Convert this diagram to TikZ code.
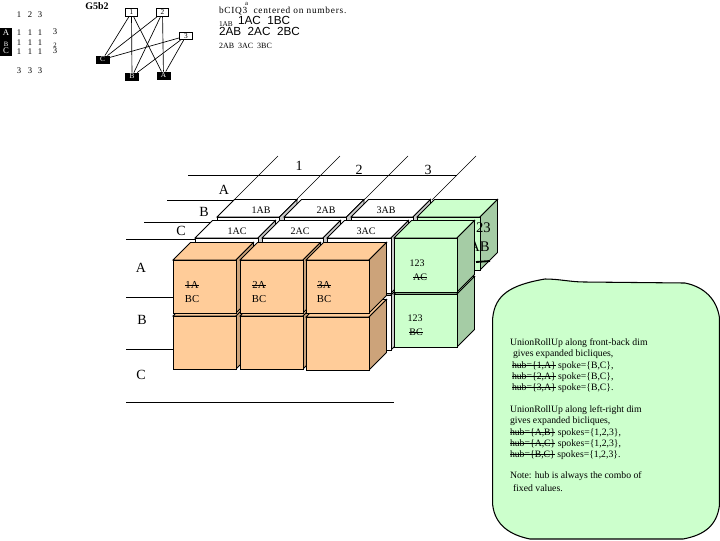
\documentclass[tikz,border=0pt]{standalone}
\usepackage{fontspec}
\setmainfont{Liberation Serif}
\newfontfamily\sansf{Liberation Sans}
\newfontfamily\widef[LetterSpace=8]{Liberation Serif}
\newcommand\fsz[1]{\fontsize{#1}{#1}\selectfont}
\newcommand\strk[1]{\setbox0\hbox{#1}\leavevmode\rlap{\rule[0.27em]{\wd0}{0.7pt}}\box0 }
\definecolor{orf}{HTML}{FFCC99}
\definecolor{ors}{HTML}{CCA37A}
\definecolor{grf}{HTML}{CCFFCC}
\definecolor{grs}{HTML}{A5CCA5}
\definecolor{whs}{HTML}{CCCCCC}
% x y w h front side top
\newcommand\cubeat[7]{%
  \draw[cubeline,fill=#7] (#1,#2) -- ++(17.5,-17.5) -- ++(#3,0) -- ++(-17.5,17.5) -- cycle;
  \draw[cubeline,fill=#6] ({#1+#3},#2) -- ++(17.5,-17.5) -- ++(0,#4) -- ++(-17.5,17.5) -- cycle;
  \draw[cubeline,fill=#5] (#1,#2) rectangle ++(#3,#4);
}
\tikzset{
  cubeline/.style={line width=0.7pt,line join=miter},
  thinl/.style={line width=0.5pt},
  txt/.style={inner sep=0pt,outer sep=0pt,font=\fsz{7.5}},
  lab/.style={inner sep=0pt,outer sep=0pt,font=\fsz{10.5}},
  small/.style={inner sep=0pt,outer sep=0pt,font=\fsz{7}},
  note/.style={inner sep=0pt,outer sep=0pt,anchor=west,font=\fsz{7.3}},
  wbox/.style={draw,fill=white,line width=0.7pt,inner sep=0pt,minimum width=9.5pt,minimum height=5.5pt,font=\fsz{5.5}},
  bbox/.style={draw,fill=black,text=white,inner sep=0pt,minimum width=9.5pt,minimum height=5.5pt,font=\fsz{5.5}},
  mat/.style={inner sep=0pt,outer sep=0pt,font=\fsz{6.5}},
  edge/.style={line width=0.5pt},
}
\begin{document}
\begin{tikzpicture}[x=0.75pt,y=-0.75pt]
\useasboundingbox (0,0) rectangle (720,540);
% top-left table
\node[mat] (m11) at (19,15) {1}; \node[mat] (m12) at (30,15) {2}; \node[mat] (m13) at (40,15) {3};
\node[mat] (m21) at (19,33) {1}; \node[mat] (m22) at (30,33) {1}; \node[mat] (m23) at (40,33) {1}; \node[mat] (m24) at (55,32) {3};
\node[mat] (m31) at (19,43) {1}; \node[mat] (m32) at (30,43) {1}; \node[mat] (m33) at (40,43) {1}; \node[mat,font=\fsz{5}] (m34) at (55,45) {2};
\node[mat] (m41) at (19,52) {1}; \node[mat] (m42) at (30,52) {1}; \node[mat] (m43) at (40,52) {1}; \node[mat] (m44) at (55,51) {3};
\node[mat] (m51) at (19,71) {3}; \node[mat] (m52) at (30,71) {3}; \node[mat] (m53) at (40,71) {3};
\fill (0,28) rectangle (12,56);
\node[mat,text=white] (la) at (6,33) {A};
\node[mat,text=white,font=\fsz{5}] (lb) at (6,44) {B};
\node[mat,text=white] (lc) at (6,51) {C};
% small graph
\node[inner sep=0pt,font=\bfseries\fsz{7.5}] (g5) at (97,6) {G5b2};
\node[wbox] (g1) at (131.5,12.5) {1};
\node[wbox] (g2) at (162.5,12.5) {2};
\node[wbox] (g3) at (186,36) {3};
\node[bbox] (gc) at (102.5,59.5) {C};
\node[bbox] (gb) at (132,76.5) {B};
\node[bbox] (ga) at (163.5,75.5) {A};
\foreach \s in {g1,g2,g3}{\foreach \t in {gc,gb,ga}{\draw[edge] (\s) -- (\t);}}
% top text
\node[small,anchor=west] (t0) at (245,4) {\fsz{5}a};
\node[small,anchor=west,font=\widef\fsz{7}] (t1) at (219,11) {bCIQ3\ \ centered on numbers.};
\node[small,anchor=west,font=\fsz{5.5}] (t2) at (219,24) {1AB};
\node[small,anchor=west,font=\sansf\fsz{8.8}] (t3) at (238,20) {1AC\ \ 1BC};
\node[small,anchor=west,font=\sansf\fsz{8.8}] (t4) at (219,31) {2AB\ \ 2AC\ \ 2BC};
\node[small,anchor=west,font=\fsz{6}] (t5) at (219,46) {2AB\ \ 3AC\ \ 3BC};
% axis lines
\coordinate (d1a) at (278,156); \coordinate (d1b) at (234,200);
\coordinate (d2a) at (340,156); \coordinate (d2b) at (296,200);
\coordinate (d3a) at (408,156); \coordinate (d3b) at (364,200);
\coordinate (d4a) at (476,156); \coordinate (d4b) at (432,200);
\foreach \n in {1,2,3,4}{\draw[thinl] (d\n a) -- (d\n b);}
\coordinate (h1a) at (188,175); \coordinate (h1b) at (457,175);
\coordinate (h2a) at (167,200); \coordinate (h2b) at (236,200);
\coordinate (h3a) at (144,222); \coordinate (h3b) at (214,222);
\coordinate (h4a) at (126,239); \coordinate (h4b) at (196,239);
\coordinate (h5a) at (126,297); \coordinate (h5b) at (173,297);
\coordinate (h6a) at (126,349); \coordinate (h6b) at (173,349);
\coordinate (h7a) at (126,402); \coordinate (h7b) at (394,402);
\foreach \n in {1,...,7}{\draw[line width=0.7pt] (h\n a) -- (h\n b);}
% back row
\cubeat{217}{217}{62.5}{50}{white}{whs}{white}
\cubeat{284}{217}{62.5}{50}{white}{whs}{white}
\cubeat{351}{217}{62}{50}{white}{whs}{white}
\cubeat{417}{217}{63}{53}{grf}{grs}{grf}
\draw[line width=1.4pt] (476,262) -- (490,261);
\node[inner sep=0pt,font=\fsz{11},anchor=east] (g123) at (491,228) {123};
\node[inner sep=0pt,font=\fsz{11},anchor=east] (gab) at (490,247) {AB};
\node[txt] (c1ab) at (261,210) {1AB};
\node[txt] (c2ab) at (326,210) {2AB};
\node[txt] (c3ab) at (386,210) {3AB};
% middle row
\cubeat{195}{295}{63}{55}{white}{whs}{white}
\cubeat{262}{295}{61}{55}{white}{whs}{white}
\cubeat{327}{295}{64}{55}{white}{whs}{white}
\cubeat{195}{238}{63}{55}{white}{whs}{white}
\cubeat{262}{238}{61}{55}{white}{whs}{white}
\cubeat{327}{238}{64}{55}{white}{whs}{white}
\node[txt] (c1ac) at (237,231) {1AC};
\node[txt] (c2ac) at (300,231) {2AC};
\node[txt] (c3ac) at (366,231) {3AC};
% green column
\cubeat{394}{294}{63}{53}{grf}{grs}{grf}
\cubeat{394}{238}{63}{54}{grf}{grs}{grf}
\node[txt,font=\fsz{7.5}] (g1a) at (417,263) {123};
\node[txt,font=\fsz{7.5}] (g1b) at (420,277) {\strk{AC}};
\node[txt,font=\fsz{7.5}] (g2a) at (415,318) {123};
\node[txt,font=\fsz{7.5}] (g2b) at (416,332) {\strk{BC}};
% front row
\cubeat{173}{316}{63}{53}{orf}{ors}{orf}
\cubeat{240}{316}{63}{53}{orf}{ors}{orf}
\cubeat{306}{317}{63}{53}{orf}{ors}{orf}
\cubeat{173}{260}{63}{53}{orf}{ors}{orf}
\cubeat{240}{260}{63}{53}{orf}{ors}{orf}
\cubeat{306}{260}{63}{53}{orf}{ors}{orf}
\foreach \x/\c in {192/1,259/2,324/3}{
  \node[txt,font=\fsz{8},anchor=center] (f\c a) at (\x,285) {\strk{\c A}};
  \node[txt,font=\fsz{8},anchor=center] (f\c b) at (\x,299) {BC};
}
% axis labels
\node[lab] (x1) at (299,166) {1};
\node[lab] (x2) at (359,170) {2};
\node[lab] (x3) at (428,170) {3};
\node[lab] (ya1) at (224,190) {A};
\node[lab] (yb1) at (204,212) {B};
\node[lab] (yc1) at (181,231) {C};
\node[lab] (ya2) at (141,268) {A};
\node[lab] (yb2) at (142,320) {B};
\node[lab] (yc2) at (141,375) {C};
% note
\draw[fill=grf,line width=0.8pt] (492.7,318)
  .. controls (495,295) and (510,285) .. (545,279)
  .. controls (560,279) and (570,282) .. (585,282)
  -- (685,283)
  .. controls (705,287) and (717,300) .. (719.5,318)
  -- (719.5,505)
  .. controls (717,525) and (705,535) .. (683,539)
  -- (530,539)
  .. controls (510,535) and (495,525) .. (492.7,505) -- cycle;
\node[note] (n1) at (510,343.5) {UnionRollUp along front-back dim};
\node[note] (n2) at (513,354.5) {gives expanded bicliques,};
\node[note] (n3) at (512,366) {\strk{hub=\{1,A\}} spoke=\{B,C\},};
\node[note] (n4) at (512,377) {\strk{hub=\{2,A\}} spoke=\{B,C\},};
\node[note] (n5) at (512,388) {\strk{hub=\{3,A\}} spoke=\{B,C\}.};
\node[note] (n6) at (510,410) {UnionRollUp along left-right dim};
\node[note] (n7) at (510,421.5) {gives expanded bicliques,};
\node[note] (n8) at (510,433) {\strk{hub=\{A,B\}} spokes=\{1,2,3\},};
\node[note] (n9) at (510,444) {\strk{hub=\{A,C\}} spokes=\{1,2,3\},};
\node[note] (n10) at (510,455) {\strk{hub=\{B,C\}} spokes=\{1,2,3\}.};
\node[note] (n11) at (510,476.5) {Note: hub is always the combo of};
\node[note] (n12) at (513,488) {fixed values.};
\end{tikzpicture}
\end{document}
